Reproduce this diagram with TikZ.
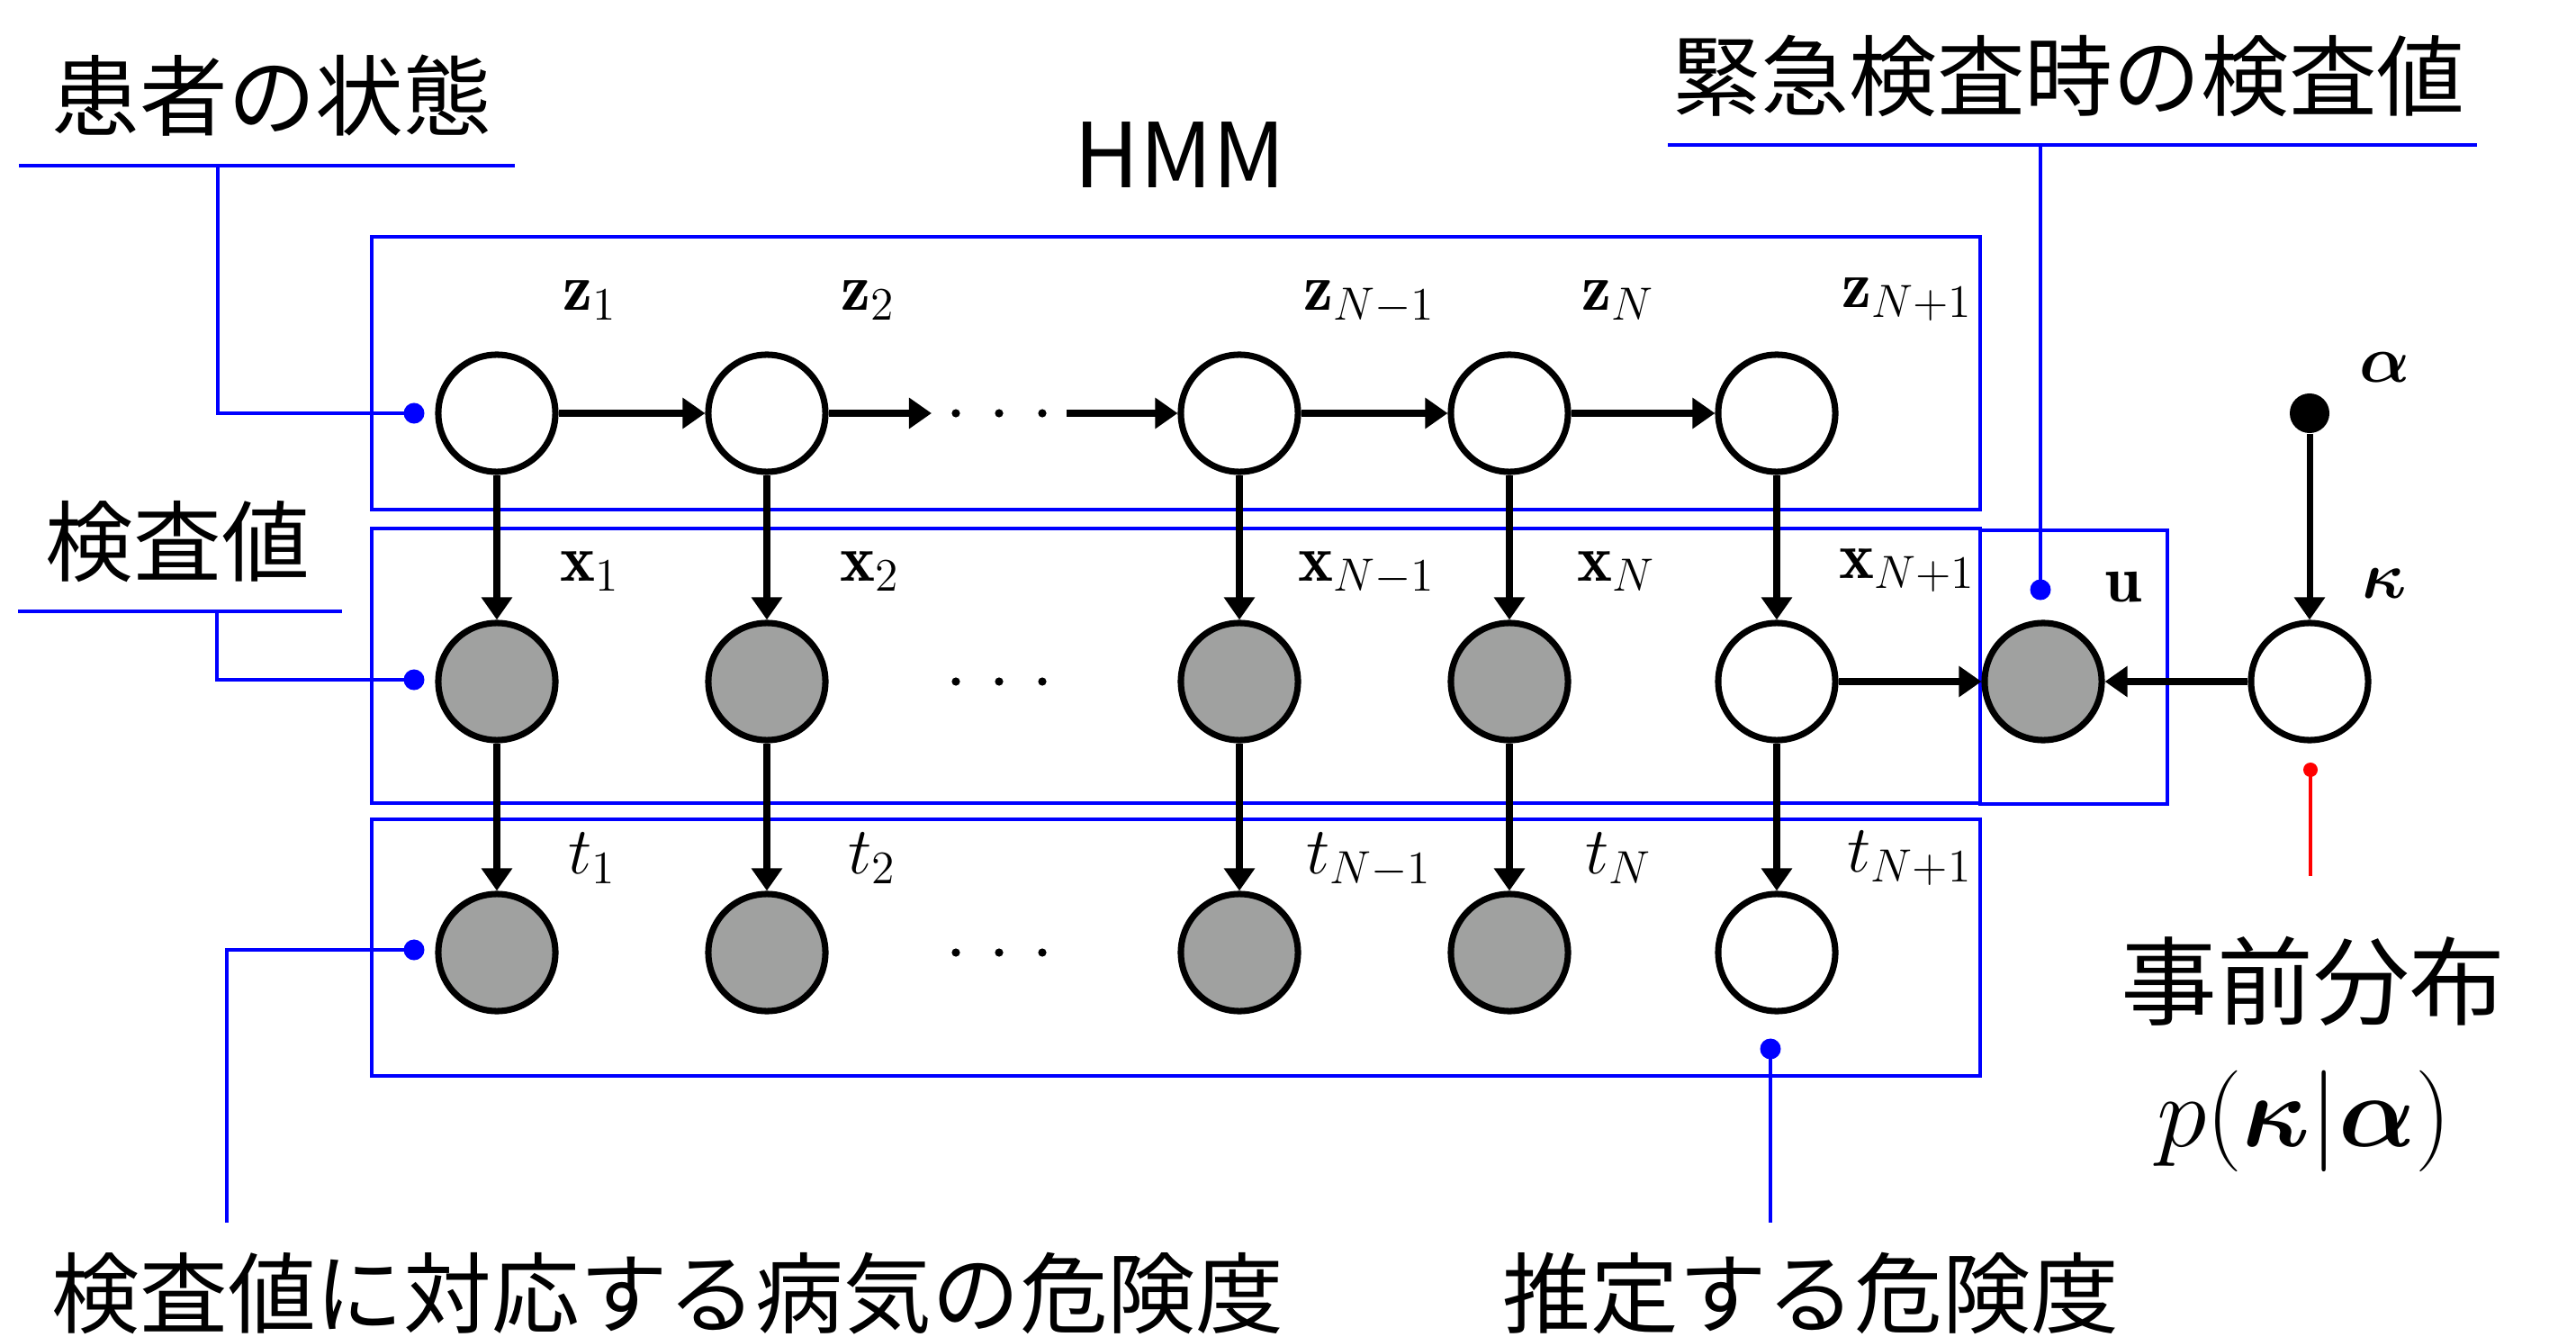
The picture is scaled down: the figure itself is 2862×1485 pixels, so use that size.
\RequirePackage{fix-cm}
\documentclass[tikz,border=0pt]{standalone}
\usepackage{amsmath}
\usepackage{fontspec}
\newfontfamily\jp{Noto Sans CJK JP}
\usetikzlibrary{arrows.meta}
\definecolor{obsgray}{RGB}{160,161,160}
\tikzset{
  rv/.style={circle, draw=black, line width=2pt, minimum size=1.30cm, inner sep=0pt, fill=white},
  obs/.style={rv, fill=obsgray},
  edge/.style={line width=2pt, -{Triangle[length=0.25cm,width=0.33cm]}},
  plate/.style={draw=blue, line width=1.1pt},
  leader/.style={draw=blue, line width=0.9pt},
  bdot/.style={circle, fill=blue, inner sep=0pt, minimum size=0.23cm},
  jpt/.style={inner sep=0pt, anchor=base west, font=\jp\fontsize{27.8}{30}\selectfont},
  lab/.style={inner sep=0pt, anchor=base west, font=\fontsize{21}{24}\selectfont},
}
\begin{document}
\begin{tikzpicture}[x=0.01cm,y=-0.01cm]
\useasboundingbox (0,0) rectangle (2862,1485);

% plates
\draw[plate] (413,263) rectangle (2200,566);
\draw[plate] (413,587) rectangle (2200,892);
\draw[plate] (413,910) rectangle (2200,1195);
\draw[plate] (2200,589) rectangle (2408,893);

% nodes
\node[rv]  (z1) at (552,459) {};
\node[rv]  (z2) at (852,459) {};
\node[rv]  (z3) at (1377,459) {};
\node[rv]  (z4) at (1677,459) {};
\node[rv]  (z5) at (1974,459) {};
\node[obs] (x1) at (552,757) {};
\node[obs] (x2) at (852,757) {};
\node[obs] (x3) at (1377,757) {};
\node[obs] (x4) at (1677,757) {};
\node[rv]  (x5) at (1974,757) {};
\node[obs] (t1) at (552,1058) {};
\node[obs] (t2) at (852,1058) {};
\node[obs] (t3) at (1377,1058) {};
\node[obs] (t4) at (1677,1058) {};
\node[rv]  (t5) at (1974,1058) {};
\node[obs] (u) at (2270,757) {};
\node[rv]  (kap) at (2566,757) {};
\node[circle, fill=black, inner sep=0pt, minimum size=0.44cm] (alp) at (2566,459) {};

% dots
\coordinate (d1) at (1035,459);
\coordinate (d2) at (1185,459);
\foreach \yy in {459,757,1058}{
  \foreach \xx in {1062,1110,1158}{
    \fill (\xx,\yy) circle (4.6);
  }
}

% edges
\draw[edge] (z1) -- (z2);
\draw[edge] (z2) -- (d1);
\draw[edge] (d2) -- (z3);
\draw[edge] (z3) -- (z4);
\draw[edge] (z4) -- (z5);
\foreach \i in {1,...,5}{
  \draw[edge] (z\i) -- (x\i);
  \draw[edge] (x\i) -- (t\i);
}
\draw[edge] (x5) -- (u);
\draw[edge] (kap) -- (u);
\draw[edge] (alp) -- (kap);

% math labels
\node[lab] (lz1) at (625,344) {$\mathbf{z}_1$};
\node[lab] (lz2) at (934,344) {$\mathbf{z}_2$};
\node[lab] (lz3) at (1448,344) {$\mathbf{z}_{N-1}$};
\node[lab] (lz4) at (1757,344) {$\mathbf{z}_N$};
\node[lab] (lz5) at (2046,341) {$\mathbf{z}_{N+1}$};
\node[lab] (lx1) at (622,645) {$\mathbf{x}_1$};
\node[lab] (lx2) at (933,645) {$\mathbf{x}_2$};
\node[lab] (lx3) at (1442,645) {$\mathbf{x}_{N-1}$};
\node[lab] (lx4) at (1752,645) {$\mathbf{x}_N$};
\node[lab] (lx5) at (2043,642) {$\mathbf{x}_{N+1}$};
\node[lab] (lt1) at (631,970) {$t_1$};
\node[lab] (lt2) at (942,970) {$t_2$};
\node[lab] (lt3) at (1451,970) {$t_{N-1}$};
\node[lab] (lt4) at (1761,970) {$t_N$};
\node[lab] (lt5) at (2052,968) {$t_{N+1}$};
\node[lab] (lu) at (2338,668) {$\mathbf{u}$};
\node[lab] (lk) at (2624,664) {$\boldsymbol{\kappa}$};
\node[lab] (la) at (2621,425) {$\boldsymbol{\alpha}$};

% texts
\node[jpt] (tx1) at (57,144) {患者の状態};
\node[jpt] (tx2) at (50,638) {検査値};
\node[jpt] (tx3) at (1858,122) {緊急検査時の検査値};
\node[jpt] (tx4) at (57,1473) {検査値に対応する病気の危険度};
\node[jpt] (tx5) at (1669,1473) {推定する危険度};
\node[inner sep=0pt, anchor=base, font=\jp\fontsize{30.4}{33}\selectfont] (tx6) at (2570,1130) {事前分布};
\node[inner sep=0pt, anchor=base, font=\jp\fontsize{28.3}{30}\selectfont] (hmm) at (1311,209) {HMM};
\node[inner sep=0pt, anchor=base, font=\fontsize{32}{36}\selectfont] (prior) at (2560,1273) {$p(\boldsymbol{\kappa}|\boldsymbol{\alpha})$};

% leaders
\node[bdot] (dz) at (460,459) {};
\node[bdot] (dx) at (460,755) {};
\node[bdot] (dt) at (460,1055) {};
\node[bdot] (du) at (2267,655) {};
\node[bdot] (dt5) at (1967,1165) {};
\node[circle, fill=red, inner sep=0pt, minimum size=0.16cm] (dk) at (2567,855) {};

\coordinate (a1) at (21,184);
\coordinate (a2) at (572,184);
\coordinate (a3) at (242,184);
\draw[leader] (a1) -- (a2);
\draw[leader] (a3) |- (dz.center);

\coordinate (b1) at (20,679);
\coordinate (b2) at (380,679);
\coordinate (b3) at (241,679);
\draw[leader] (b1) -- (b2);
\draw[leader] (b3) |- (dx.center);

\coordinate (c1) at (252,1358);
\draw[leader] (dt.center) -| (c1);

\coordinate (e1) at (1853,161);
\coordinate (e2) at (2752,161);
\coordinate (e3) at (2267,161);
\draw[leader] (e1) -- (e2);
\draw[leader] (e3) -- (du.center);

\coordinate (f1) at (1967,1358);
\draw[leader] (dt5.center) -- (f1);

\coordinate (g1) at (2567,973);
\draw[red, line width=0.9pt] (dk.center) -- (g1);
\end{tikzpicture}
\end{document}
